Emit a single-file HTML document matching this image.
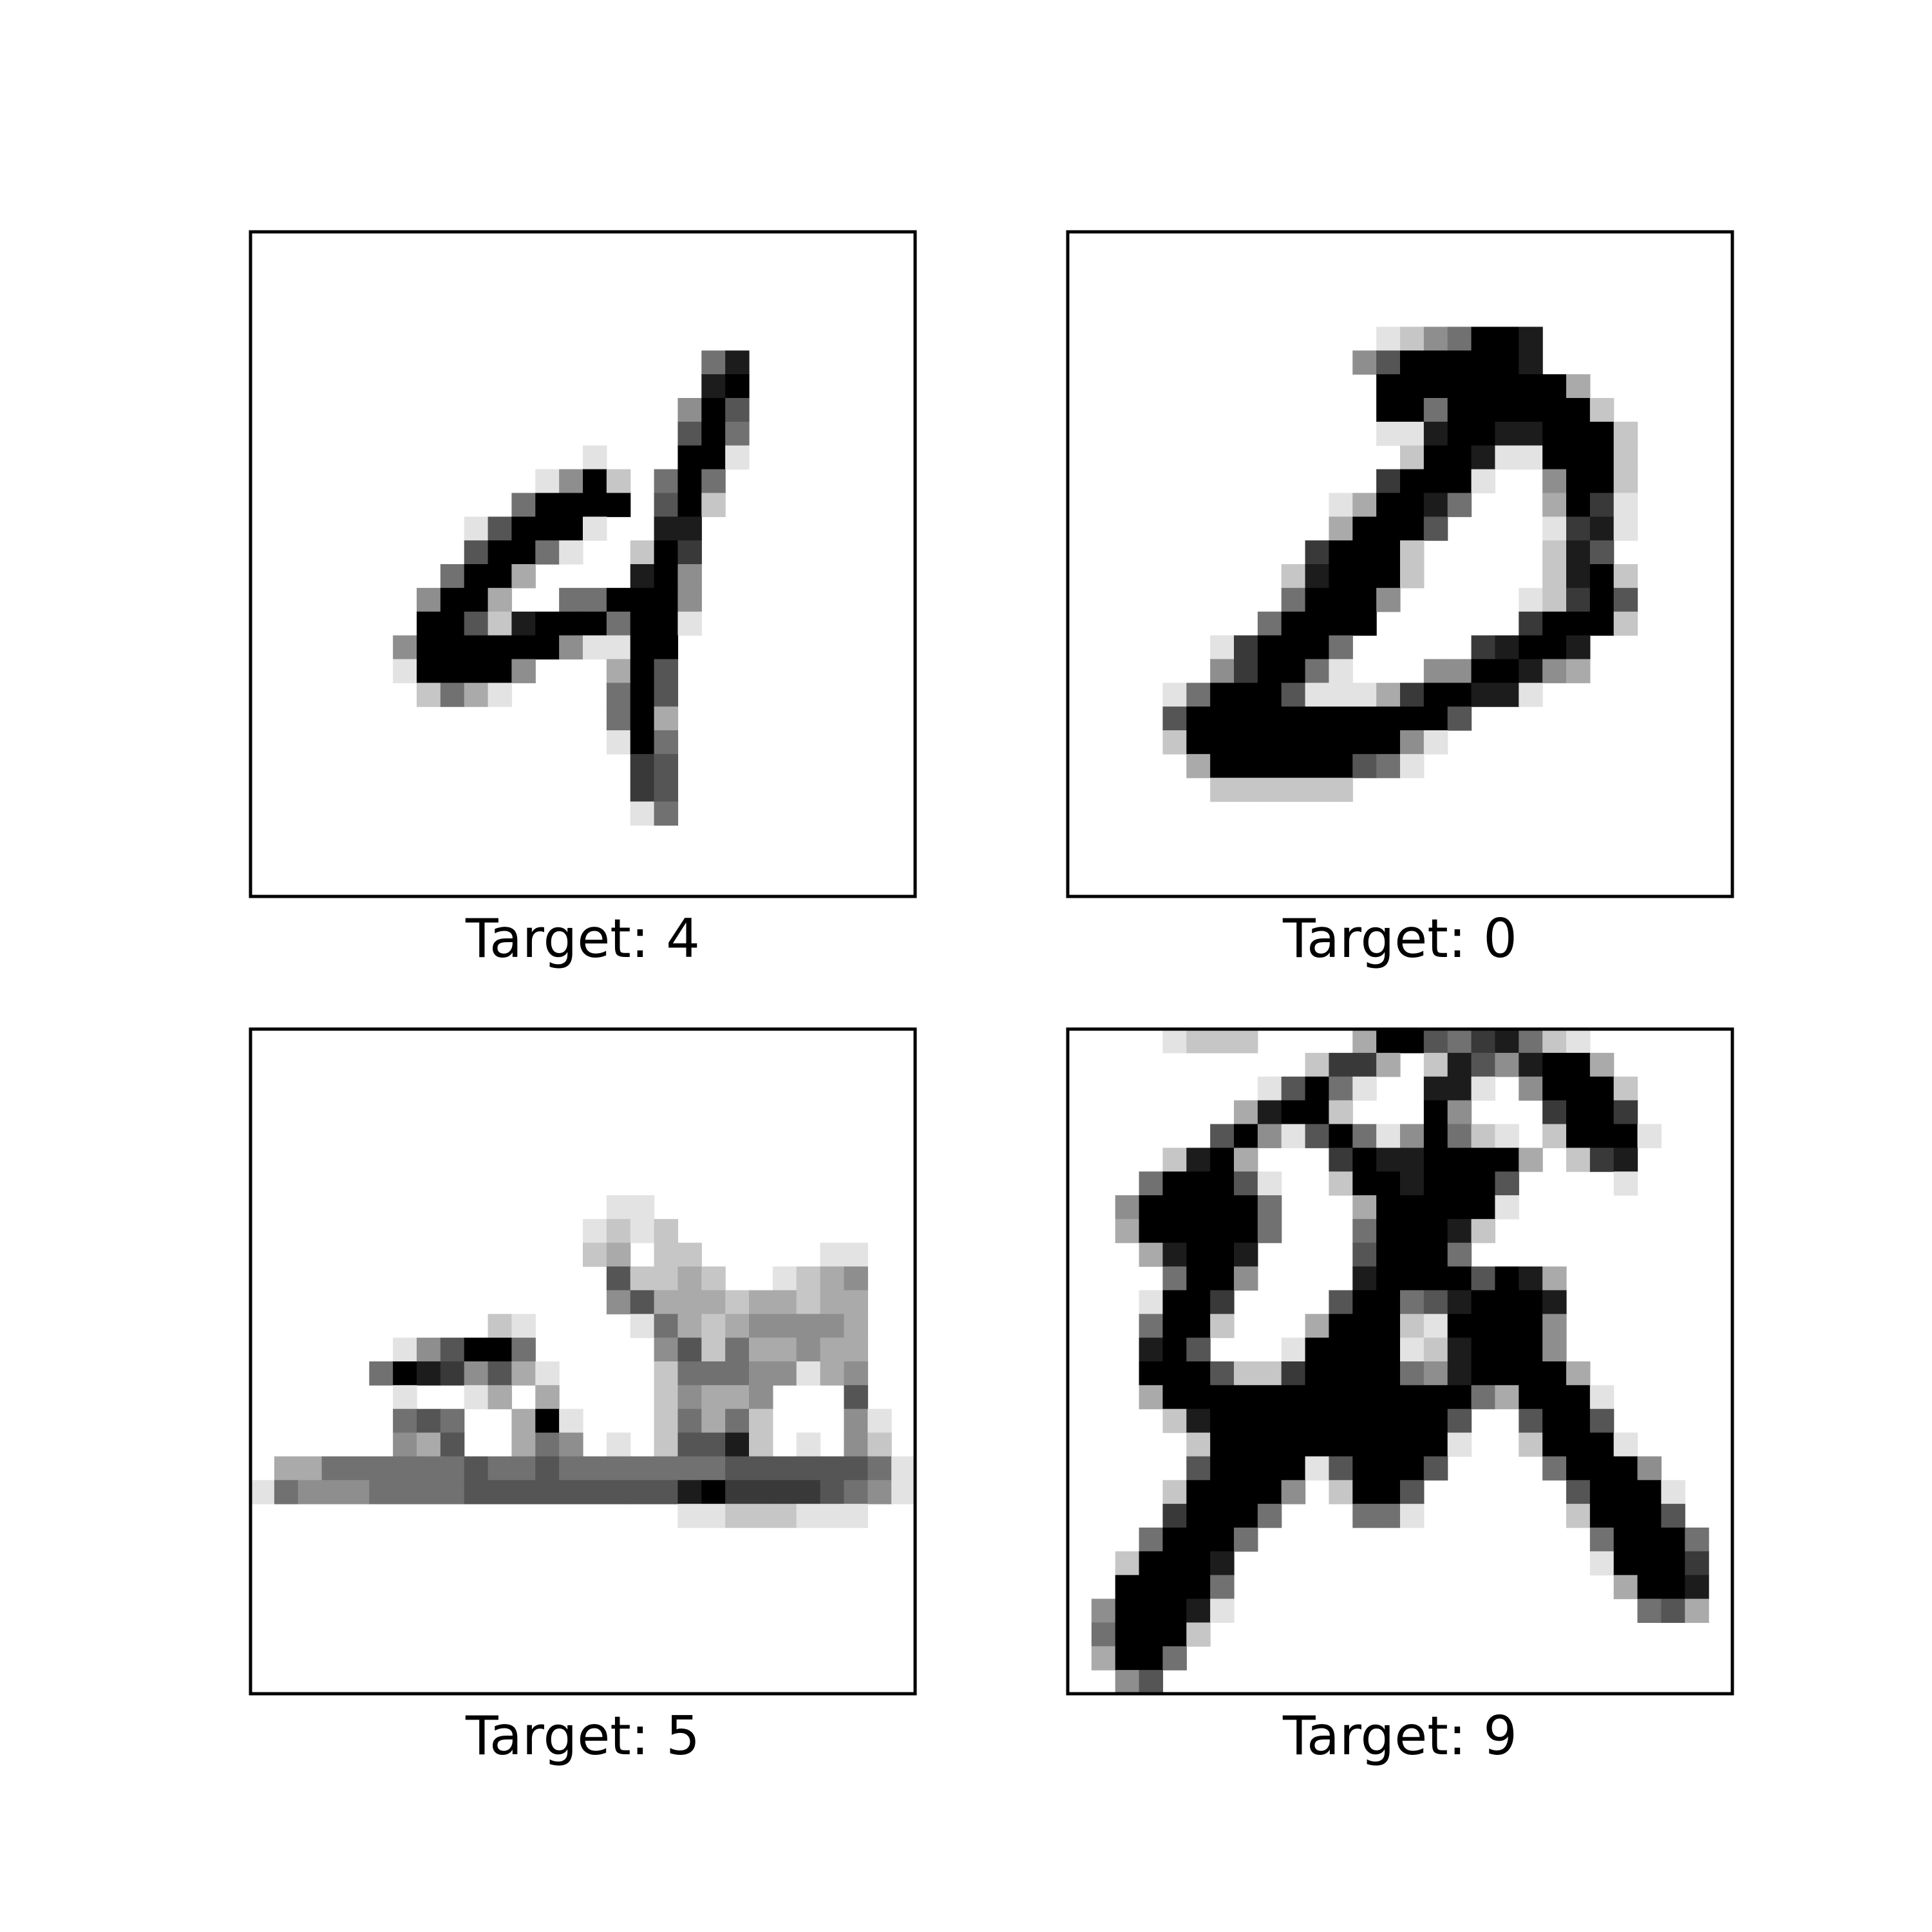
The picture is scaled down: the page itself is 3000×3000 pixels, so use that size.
<!DOCTYPE html>
<html><head><meta charset="utf-8"><style>
html,body{margin:0;padding:0;background:#fff;}
svg{display:block;}
</style></head><body>
<svg id="fig" width="3000" height="3000" viewBox="0 0 3000 3000" xmlns="http://www.w3.org/2000/svg">
<rect width="3000" height="3000" fill="#fff"/>
</svg>
<script>
// Image data: each row = [leading blank cells, darkness digits 0-9]
const targets = ["4", "0", "5", "9"];
const img0 = {5:[19,"58"],6:[19,"89"],7:[18,"496"],8:[18,"695"],9:[14,"1000991"],10:[12,"14920595"],11:[11,"599990692"],12:[9,"1699910088"],13:[9,"6995100297"],14:[8,"59930000894"],15:[7,"499300559994"],16:[7,"996289995991"],17:[6,"499999941199"],18:[6,"199994000396"],19:[7,"25310000596"],20:[15,"593"],21:[15,"195"],22:[16,"76"],23:[16,"76"],24:[16,"15"]};
const img1 = {4:[13,"1245998"],5:[12,"46999998"],6:[13,"999999993"],7:[13,"9959999992"],8:[13,"11899889992"],9:[14,"2998119992"],10:[13,"79991004992"],11:[11,"1399850003971"],12:[11,"3999600001781"],13:[10,"79992000002860"],14:[9,"289992000002892"],15:[9,"599940000012796"],16:[8,"5999900000079992"],17:[6,"1799950000078998"],18:[6,"4799510004499843"],19:[4,"1599961113799881"],20:[4,"6"+"99999999999"+"6"],21:[4,"2"+"999999999"+"41"],22:[5,"3999999651"],23:[6,"222222"]};
const img2 = {7:[15,"11"],8:[14,"1212"],9:[14,"23022"+"0000"+"011"],10:[15,"62232001234"],11:[15,"46333233233"],12:[10,"2100001532344443"],13:[6,"146995"+"00000"+"462533433"],14:[5,"59874631"+"0000"+"255544134"],15:[6,"1001303"+"0000"+"24334"+"000"+"6"],16:[6,"56500391"+"000"+"25352"+"000"+"41"],17:[6,"436003540102668201042"],18:[0,"033"+"555555"+"6"+"55"+"6"+"5555555"+"666666"+"5"+"1"],19:[0,"15444"+"5555"+"666666666"+"89"+"7777"+"6541"],20:[18,"1122211100"]};
const img3 = {0:[4,"1222"+"0000"+"3996578521"],1:[10,"2773028648993"],2:[8,"1695100881049992"],3:[7,"38992000940007997"],4:[6,"6941695149521029991"],5:[4,"28930007988999930278"],6:[3,"5999610029989996"+"0000"+"1"],7:[2,"4"+"99999"+"5"+"000"+"3"+"99999"+"1"],8:[2,"3999995000599982"],9:[3,"38998000069995"],10:[4,"59940000899996983"],11:[3,"1997"+"0000"+"6995689998"],12:[3,"5992"+"000"+"39992199994"],13:[3,"896"+"000"+"199991289994"],14:[3,"9996227999954899993"],15:[3,"3"+"9999999999999"+"53"+"999"+"1"],16:[4,"28"+"9999999999"+"6006996"],17:[5,"2"+"9999999999"+"1002"+"999"+"1"],18:[5,"6"+"9999"+"16"+"999"+"6"+"0000"+"5"+"999"+"4"],19:[4,"2"+"9999"+"402996"+"000000"+"6"+"999"+"1"],20:[4,"7"+"999"+"5"+"000"+"551"+"000000"+"2"+"999"+"6"],21:[3,"5"+"999"+"5"+"0000000000"+"0000"+"5"+"999"+"5"],22:[2,"2"+"999"+"8"+"0000000000"+"00000"+"1"+"999"+"7"],23:[2,"9999"+"5"+"0000000000"+"000000"+"3998"],24:[1,"4999"+"81"+"0000000000"+"0000000"+"563"],25:[1,"59992"],26:[1,"3995"],27:[2,"46"]};
const images = [img0, img1, img2, img3];

const NS = "http://www.w3.org/2000/svg";
const svg = document.getElementById("fig");
const N = 28, BOX = 1032;
const origins = [[389,360],[1658,360],[389,1598],[1658,1598]];
const cell = BOX / N;
function xScale(p, c){ return origins[p][0] + c * cell; }
function yScale(p, r){ return origins[p][1] + r * cell; }
function shade(d){ const g = Math.round(255 * (1 - d / 9)); return `rgb(${g},${g},${g})`; }

images.forEach((img, p) => {
  const g = document.createElementNS(NS, "g");
  
  
  svg.appendChild(g);
  Object.keys(img).forEach(k => {
    const r = +k;
    const [lead, digits] = img[k];
    for (let i = 0; i < digits.length; i++) {
      const c = lead + i;
      if (c >= N) break;
      const d = +digits[i];
      if (!d) continue;
      const rect = document.createElementNS(NS, "rect");
      
      
      rect.setAttribute("x", xScale(p, c).toFixed(2));
      rect.setAttribute("y", yScale(p, r).toFixed(2));
      rect.setAttribute("width", (cell + 0.6).toFixed(2));
      rect.setAttribute("height", (cell + 0.6).toFixed(2));
      rect.setAttribute("fill", shade(d));
      g.appendChild(rect);
    }
  });
  const frame = document.createElementNS(NS, "rect");
  
  
  frame.setAttribute("x", origins[p][0]);
  frame.setAttribute("y", origins[p][1]);
  frame.setAttribute("width", BOX);
  frame.setAttribute("height", BOX);
  frame.setAttribute("fill", "none");
  frame.setAttribute("stroke", "#000");
  frame.setAttribute("stroke-width", "5");
  g.appendChild(frame);
  const t = document.createElementNS(NS, "text");
  
  
  t.setAttribute("x", origins[p][0] + BOX / 2);
  t.setAttribute("y", origins[p][1] + BOX + 94);
  t.setAttribute("text-anchor", "middle");
  t.setAttribute("font-family", "DejaVu Sans, Liberation Sans, sans-serif");
  t.setAttribute("font-size", "83");
  t.setAttribute("fill", "#000");
  t.textContent = "Target: " + targets[p];
  g.appendChild(t);
});
</script>
</body></html>
